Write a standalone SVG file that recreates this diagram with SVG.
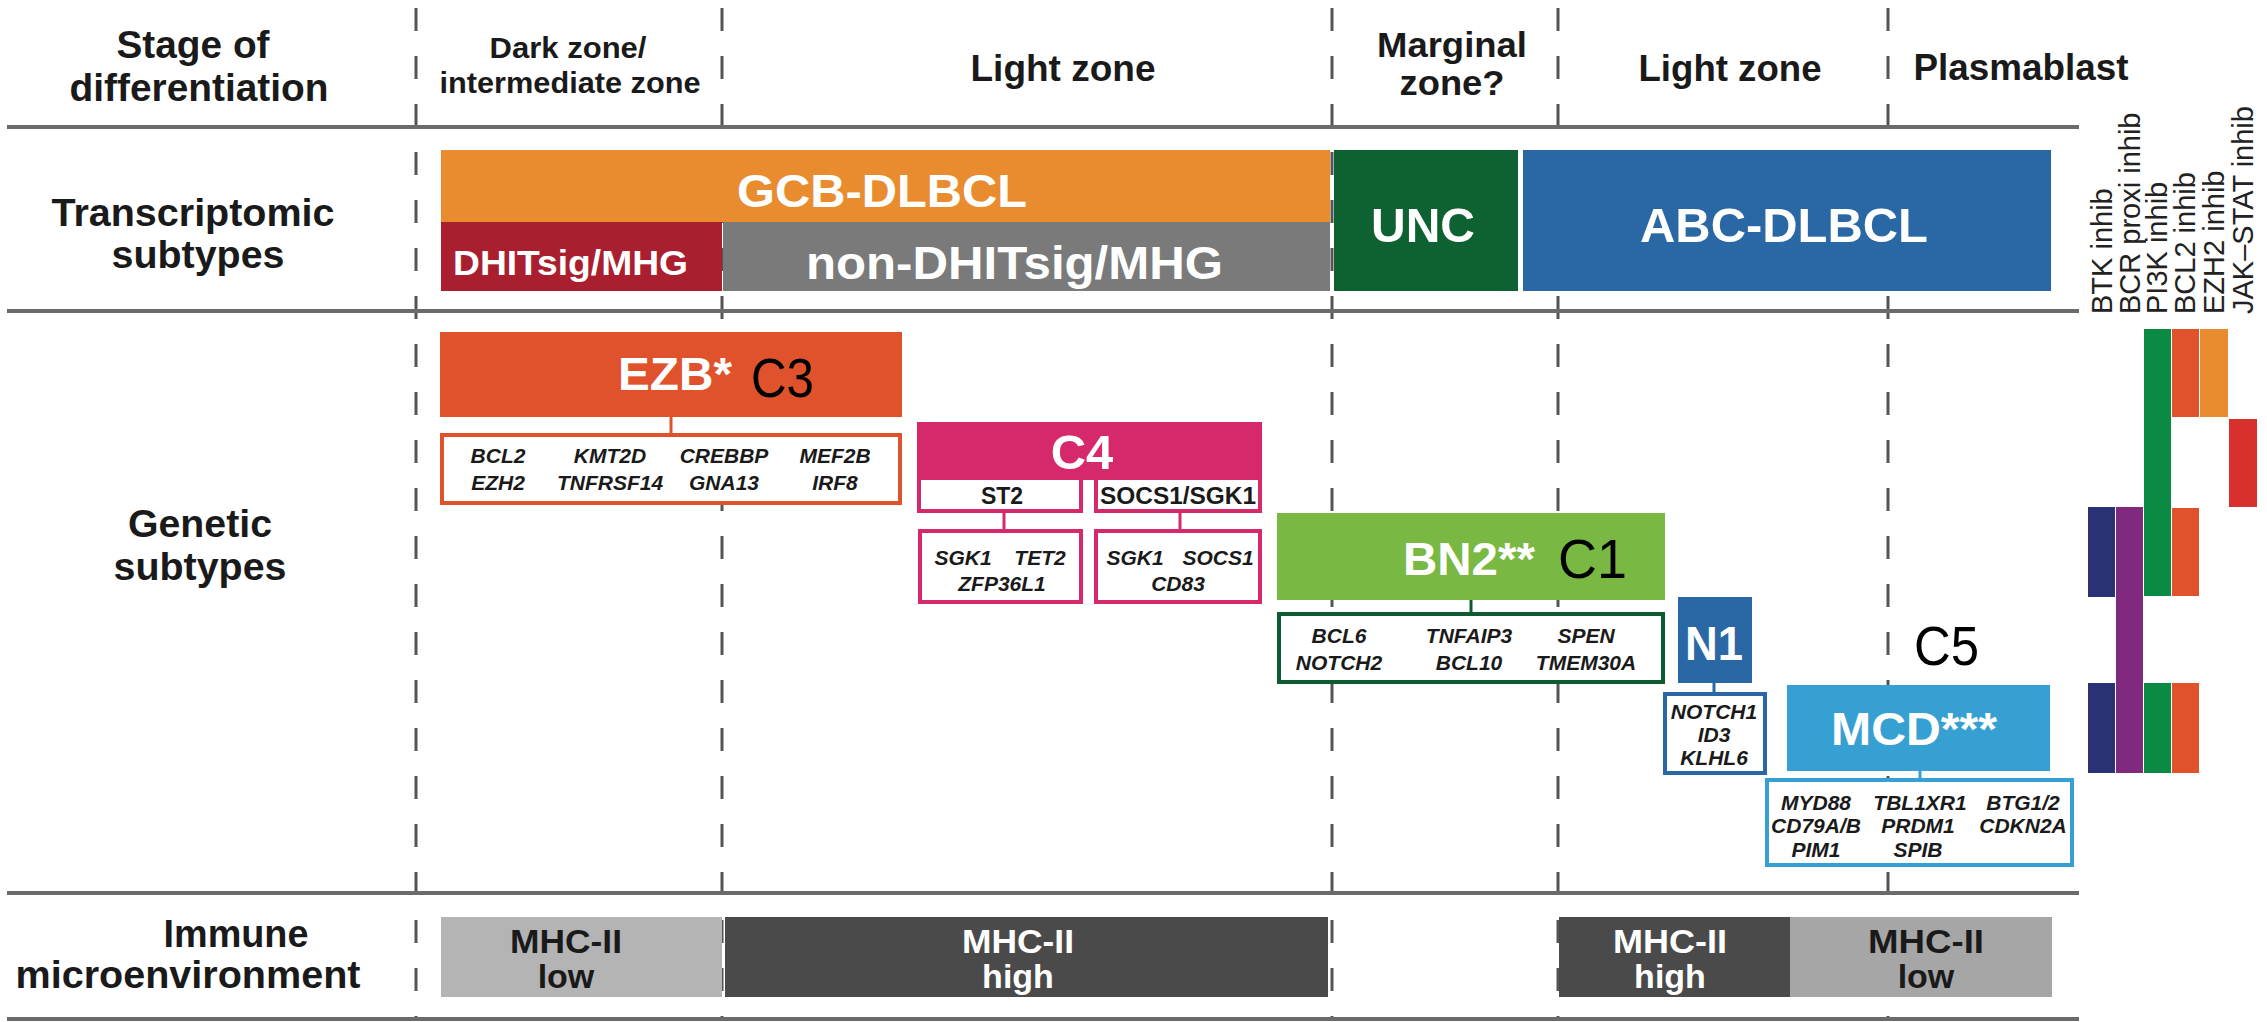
<svg xmlns="http://www.w3.org/2000/svg" width="2267" height="1022" viewBox="0 0 2267 1022">
<defs>
<style>
text{font-family:"Liberation Sans",Arial,Helvetica,sans-serif}
.hd{font-weight:bold;fill:#1a1a1a;text-anchor:middle}
.rl{font-weight:bold;fill:#1a1a1a;text-anchor:middle;font-size:38px}
.wt{font-weight:bold;fill:#fff}
.wc{font-weight:bold;fill:#fff;text-anchor:middle}
.cl{fill:#000;font-size:56px}
.gn{font-weight:bold;font-style:italic;fill:#1a1a1a;font-size:21px;text-anchor:middle}
.sb{font-weight:bold;fill:#1a1a1a;font-size:23px;text-anchor:middle}
.dr{fill:#222;font-size:29px}
.dash{stroke:#555;stroke-width:3;stroke-dasharray:23 25;fill:none}
.rule{stroke:#6b6b6b;stroke-width:4;fill:none}
.box{fill:#fff;stroke-width:4}
.con{stroke-width:3;fill:none}
</style>
</defs>
<rect width="2267" height="1022" fill="#fff"/>

<g id="grid">
<line class="dash" x1="416" y1="8" x2="416" y2="1019"/>
<line class="dash" x1="722" y1="8" x2="722" y2="1019"/>
<line class="dash" x1="1332" y1="8" x2="1332" y2="1019"/>
<line class="dash" x1="1558" y1="8" x2="1558" y2="1019"/>
<line class="dash" x1="1888" y1="8" x2="1888" y2="1019"/>
<line class="rule" x1="7" y1="127" x2="2079" y2="127"/>
<line class="rule" x1="7" y1="311" x2="2079" y2="311"/>
<line class="rule" x1="7" y1="893" x2="2079" y2="893"/>
<line class="rule" x1="7" y1="1019" x2="2079" y2="1019"/>
</g>

<g id="row-labels">
<text class="rl" x="193" y="58" textLength="153" lengthAdjust="spacingAndGlyphs">Stage of</text>
<text class="rl" x="199" y="101" textLength="259" lengthAdjust="spacingAndGlyphs">differentiation</text>
<text class="rl" x="193" y="226" textLength="283" lengthAdjust="spacingAndGlyphs">Transcriptomic</text>
<text class="rl" x="198" y="268" textLength="173" lengthAdjust="spacingAndGlyphs">subtypes</text>
<text class="rl" x="200" y="537" textLength="144" lengthAdjust="spacingAndGlyphs">Genetic</text>
<text class="rl" x="200" y="580" textLength="173" lengthAdjust="spacingAndGlyphs">subtypes</text>
<text class="rl" x="236" y="947" textLength="145" lengthAdjust="spacingAndGlyphs">Immune</text>
<text class="rl" x="188" y="988" textLength="345" lengthAdjust="spacingAndGlyphs">microenvironment</text>
</g>

<g id="stage-headers">
<text class="hd" x="568" y="58" font-size="29" textLength="157" lengthAdjust="spacingAndGlyphs">Dark zone/</text>
<text class="hd" x="570" y="93" font-size="29" textLength="261" lengthAdjust="spacingAndGlyphs">intermediate zone</text>
<text class="hd" x="1063" y="81" font-size="37" textLength="185" lengthAdjust="spacingAndGlyphs">Light zone</text>
<text class="hd" x="1452" y="57" font-size="35" textLength="150" lengthAdjust="spacingAndGlyphs">Marginal</text>
<text class="hd" x="1452" y="95" font-size="35" textLength="105" lengthAdjust="spacingAndGlyphs">zone?</text>
<text class="hd" x="1730" y="81" font-size="37" textLength="183" lengthAdjust="spacingAndGlyphs">Light zone</text>
<text class="hd" x="2021" y="80" font-size="37" textLength="215" lengthAdjust="spacingAndGlyphs">Plasmablast</text>
</g>

<g id="transcriptomic">
<g id="gcb"><rect x="441" y="150" width="889" height="72" fill="#E98C2F"/>
<text class="wt" x="737" y="207" font-size="47" textLength="290" lengthAdjust="spacingAndGlyphs">GCB-DLBCL</text></g>
<g id="dhit"><rect x="441" y="222" width="281" height="69" fill="#A91F2F"/>
<text class="wt" x="453" y="275" font-size="35" textLength="235" lengthAdjust="spacingAndGlyphs">DHITsig/MHG</text></g>
<g id="nondhit"><rect x="723" y="222" width="607" height="69" fill="#7A7A7A"/>
<text class="wt" x="806" y="279" font-size="46" textLength="417" lengthAdjust="spacingAndGlyphs">non-DHITsig/MHG</text></g>
<g id="unc"><rect x="1334" y="150" width="184" height="141" fill="#0E6131"/>
<text class="wt" x="1371" y="242" font-size="49" textLength="104" lengthAdjust="spacingAndGlyphs">UNC</text></g>
<g id="abc"><rect x="1523" y="150" width="528" height="141" fill="#2A67A5"/>
<text class="wt" x="1640" y="242" font-size="49" textLength="288" lengthAdjust="spacingAndGlyphs">ABC-DLBCL</text></g>
</g>

<g id="connectors">
<line class="con" stroke="#E0522C" x1="671" y1="417" x2="671" y2="433"/>
<line class="con" stroke="#D6296C" x1="1004" y1="513" x2="1004" y2="529"/>
<line class="con" stroke="#D6296C" x1="1180" y1="513" x2="1180" y2="529"/>
<line class="con" stroke="#0D5A33" x1="1471" y1="600" x2="1471" y2="612"/>
<line class="con" stroke="#2A67A5" x1="1714" y1="683" x2="1714" y2="692"/>
<line class="con" stroke="#36A0D2" x1="1920" y1="771" x2="1920" y2="778"/>
</g>

<g id="ezb">
<rect x="440" y="332" width="462" height="85" fill="#E0522C"/>
<text class="wt" x="618" y="390" font-size="46" textLength="114" lengthAdjust="spacingAndGlyphs">EZB*</text>
<text class="cl" x="751" y="397" textLength="63" lengthAdjust="spacingAndGlyphs">C3</text>
</g>
<g id="ezb-genes">
<rect class="box" stroke="#E0522C" x="442" y="435" width="458" height="68"/>
<text class="gn" x="498" y="463">BCL2</text><text class="gn" x="610" y="463">KMT2D</text><text class="gn" x="724" y="463">CREBBP</text><text class="gn" x="835" y="463">MEF2B</text>
<text class="gn" x="498" y="490">EZH2</text><text class="gn" x="610" y="490">TNFRSF14</text><text class="gn" x="724" y="490">GNA13</text><text class="gn" x="835" y="490">IRF8</text>
</g>

<g id="c4">
<rect x="917" y="422" width="345" height="58" fill="#D6296C"/>
<text class="wc" x="1082" y="469" font-size="49">C4</text>
</g>
<g id="c4-st2">
<rect class="box" stroke="#D6296C" x="919" y="478" width="162" height="33"/>
<text class="sb" x="1002" y="504">ST2</text>
</g>
<g id="c4-socs">
<rect class="box" stroke="#D6296C" x="1096" y="478" width="164" height="33"/>
<text class="sb" x="1178" y="504" textLength="156" lengthAdjust="spacingAndGlyphs">SOCS1/SGK1</text>
</g>
<g id="c4-st2-genes">
<rect class="box" stroke="#D6296C" x="920" y="531" width="161" height="71"/>
<text class="gn" x="963" y="565">SGK1</text><text class="gn" x="1040" y="565">TET2</text>
<text class="gn" x="1002" y="591">ZFP36L1</text>
</g>
<g id="c4-socs-genes">
<rect class="box" stroke="#D6296C" x="1096" y="531" width="164" height="71"/>
<text class="gn" x="1135" y="565">SGK1</text><text class="gn" x="1218" y="565">SOCS1</text>
<text class="gn" x="1178" y="591">CD83</text>
</g>

<g id="bn2">
<rect x="1277" y="513" width="388" height="87" fill="#78B843"/>
<text class="wt" x="1403" y="575" font-size="47" textLength="132" lengthAdjust="spacingAndGlyphs">BN2**</text>
<text class="cl" x="1558" y="578" textLength="69" lengthAdjust="spacingAndGlyphs">C1</text>
</g>
<g id="bn2-genes">
<rect class="box" stroke="#0D5A33" x="1279" y="614" width="384" height="68"/>
<text class="gn" x="1339" y="643">BCL6</text><text class="gn" x="1469" y="643">TNFAIP3</text><text class="gn" x="1586" y="643">SPEN</text>
<text class="gn" x="1339" y="670">NOTCH2</text><text class="gn" x="1469" y="670">BCL10</text><text class="gn" x="1586" y="670">TMEM30A</text>
</g>

<g id="n1">
<rect x="1678" y="597" width="74" height="86" fill="#2A67A5"/>
<text class="wc" x="1714" y="660" font-size="49" textLength="58" lengthAdjust="spacingAndGlyphs">N1</text>
</g>
<g id="n1-genes">
<rect class="box" stroke="#2A67A5" x="1665" y="694" width="100" height="79"/>
<text class="gn" x="1714" y="719">NOTCH1</text>
<text class="gn" x="1714" y="742">ID3</text>
<text class="gn" x="1714" y="765">KLHL6</text>
</g>

<g id="mcd">
<text class="cl" x="1914" y="665" textLength="65" lengthAdjust="spacingAndGlyphs">C5</text>
<rect x="1787" y="685" width="263" height="86" fill="#36A0D2"/>
<text class="wt" x="1831" y="745" font-size="46" textLength="166" lengthAdjust="spacingAndGlyphs">MCD***</text>
</g>
<g id="mcd-genes">
<rect class="box" stroke="#36A0D2" x="1767" y="780" width="305" height="85"/>
<text class="gn" x="1816" y="810">MYD88</text><text class="gn" x="1920" y="810">TBL1XR1</text><text class="gn" x="2023" y="810">BTG1/2</text>
<text class="gn" x="1816" y="833">CD79A/B</text><text class="gn" x="1918" y="833">PRDM1</text><text class="gn" x="2023" y="833">CDKN2A</text>
<text class="gn" x="1816" y="857">PIM1</text><text class="gn" x="1918" y="857">SPIB</text>
</g>

<g id="drug-labels">
<text class="dr" transform="translate(2112,314) rotate(-90)">BTK inhib</text>
<text class="dr" transform="translate(2140,314) rotate(-90)">BCR proxi inhib</text>
<text class="dr" transform="translate(2167,314) rotate(-90)">PI3K inhib</text>
<text class="dr" transform="translate(2195,314) rotate(-90)">BCL2 inhib</text>
<text class="dr" transform="translate(2224,314) rotate(-90)">EZH2 inhib</text>
<text class="dr" transform="translate(2253,314) rotate(-90)">JAK–STAT inhib</text>
</g>
<g id="drug-bars">
<rect x="2144" y="329" width="27" height="267" fill="#0B8A43"/>
<rect x="2172" y="329" width="27" height="88" fill="#E0522C"/>
<rect x="2200" y="329" width="28" height="88" fill="#E98C2F"/>
<rect x="2229" y="419" width="28" height="88" fill="#D8302D"/>
<rect x="2088" y="507" width="27" height="90" fill="#2B3175"/>
<rect x="2116" y="507" width="27" height="266" fill="#7F2A7F"/>
<rect x="2172" y="508" width="27" height="88" fill="#E0522C"/>
<rect x="2088" y="683" width="27" height="90" fill="#2B3175"/>
<rect x="2144" y="683" width="27" height="90" fill="#0B8A43"/>
<rect x="2172" y="683" width="27" height="90" fill="#E0522C"/>
</g>

<g id="immune">
<g id="mhc-low-1"><rect x="441" y="917" width="281" height="80" fill="#B4B4B4"/>
<text class="hd" x="566" y="953" font-size="34" textLength="112" lengthAdjust="spacingAndGlyphs">MHC-II</text><text class="hd" x="566" y="988" font-size="34">low</text></g>
<g id="mhc-high-1"><rect x="725" y="917" width="603" height="80" fill="#4A4A4A"/>
<text class="wc" x="1018" y="953" font-size="34" textLength="112" lengthAdjust="spacingAndGlyphs">MHC-II</text><text class="wc" x="1018" y="988" font-size="34">high</text></g>
<g id="mhc-high-2"><rect x="1559" y="917" width="231" height="80" fill="#4A4A4A"/>
<text class="wc" x="1670" y="953" font-size="34" textLength="114" lengthAdjust="spacingAndGlyphs">MHC-II</text><text class="wc" x="1670" y="988" font-size="34">high</text></g>
<g id="mhc-low-2"><rect x="1790" y="917" width="262" height="80" fill="#A6A6A6"/>
<text class="hd" x="1926" y="953" font-size="34" textLength="116" lengthAdjust="spacingAndGlyphs">MHC-II</text><text class="hd" x="1926" y="988" font-size="34">low</text></g>
</g>
</svg>
